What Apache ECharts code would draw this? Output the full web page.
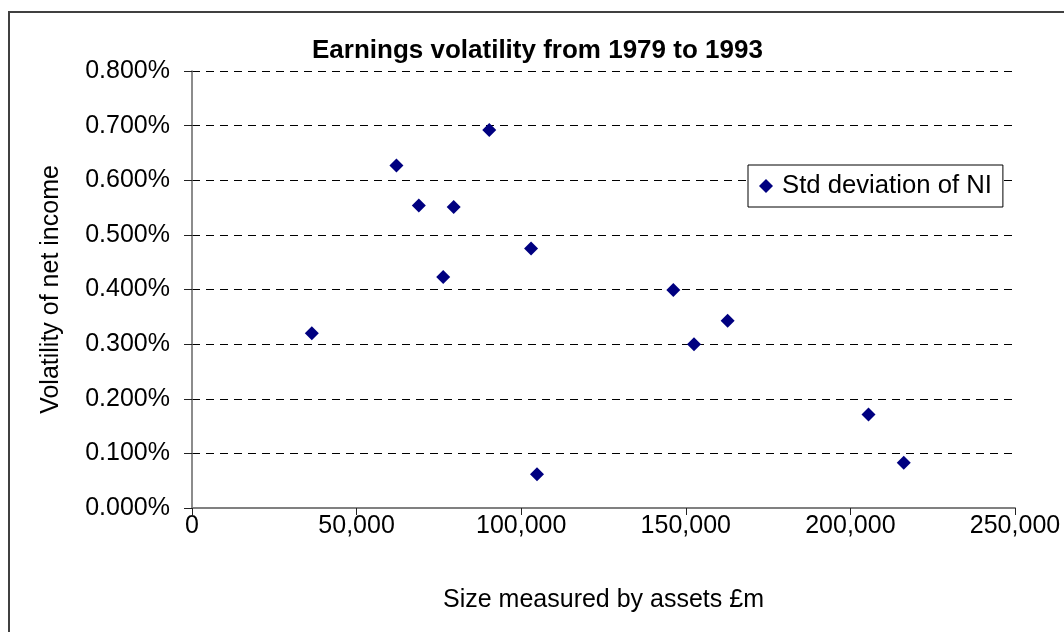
<!DOCTYPE html>
<html>
<head>
<meta charset="utf-8">
<script src="https://cdn.jsdelivr.net/npm/echarts@6/dist/echarts.min.js"></script>
<style>
  html, body { margin: 0; padding: 0; background: #fff; }
  #chart { width: 1064px; height: 632px; }
</style>
</head>
<body>
<div id="chart"></div>
<script>
// assets (£m) and std deviation of net income (%)
var sizeAssets = [36400, 62100, 68900, 79500, 90300, 76300, 103000, 104800, 146200, 162700, 152500, 205500, 216200];
var volatilityNI = [0.320, 0.627, 0.554, 0.551, 0.692, 0.423, 0.475, 0.062, 0.399, 0.343, 0.300, 0.171, 0.083];
var seriesName = "Std deviation of NI";

var points = sizeAssets.map(function (x, i) {
  return [x, volatilityNI[i]];
});

var fontFam = "Liberation Sans, Arial, sans-serif";

var chart = echarts.init(document.getElementById("chart"));
chart.setOption({
  animation: false,
  backgroundColor: "#fff",
  title: {
    text: "Earnings volatility from 1979 to 1993",
    left: 307,
    top: 33,
    textStyle: { fontFamily: fontFam, fontSize: 26, fontWeight: "bold", color: "#000" }
  },
  legend: {
    data: [seriesName],
    left: 748,
    top: 165,
    orient: "vertical",
    icon: "diamond",
    itemWidth: 14,
    itemHeight: 14,
    itemStyle: { opacity: 1 },
    padding: [8, 11, 8, 11],
    backgroundColor: "#fff",
    borderColor: "#000",
    borderWidth: 1,
    borderRadius: 0,
    textStyle: { fontFamily: fontFam, fontSize: 25.7, color: "#000", padding: [0, 0, 0, 4] }
  },
  grid: {
    left: 192,
    right: 49,
    top: 71,
    bottom: 124
  },
  xAxis: {
    type: "value",
    min: 0,
    max: 250000,
    interval: 50000,
    name: "Size measured by assets £m",
    nameLocation: "middle",
    nameGap: 80,
    nameTextStyle: { fontFamily: fontFam, fontSize: 25, color: "#000" },
    axisLine: { show: true, onZero: false, lineStyle: { color: "#808080", width: 2 } },
    axisTick: { show: true, length: 7, lineStyle: { color: "#222", width: 1 } },
    axisLabel: {
      margin: 6,
      fontFamily: fontFam,
      fontSize: 25,
      color: "#000",
      formatter: function (v) { return v.toLocaleString("en-US"); }
    },
    splitLine: { show: false }
  },
  yAxis: {
    type: "value",
    min: 0,
    max: 0.8,
    interval: 0.1,
    name: "Volatility of net income",
    nameLocation: "middle",
    nameGap: 128,
    nameTextStyle: { fontFamily: fontFam, fontSize: 25, color: "#000" },
    axisLine: { show: true, lineStyle: { color: "#666", width: 1.5 } },
    axisTick: { show: true, length: 8, lineStyle: { color: "#222", width: 1 } },
    axisLabel: {
      margin: 22,
      fontFamily: fontFam,
      fontSize: 25,
      color: "#000",
      formatter: function (v) { return v.toFixed(3) + "%"; }
    },
    splitLine: { show: true, lineStyle: { color: "#000", width: 1, type: [8, 6] } }
  },
  graphic: [{
    type: "rect",
    shape: { x: 9, y: 12, width: 1100, height: 700 },
    style: { fill: "none", stroke: "#404040", lineWidth: 2 },
    silent: true,
    z: 100
  }],
  series: [{
    name: seriesName,
    type: "scatter",
    symbol: "diamond",
    symbolSize: 14,
    itemStyle: { color: "#000080", opacity: 1 },
    data: points
  }]
});
</script>
</body>
</html>
